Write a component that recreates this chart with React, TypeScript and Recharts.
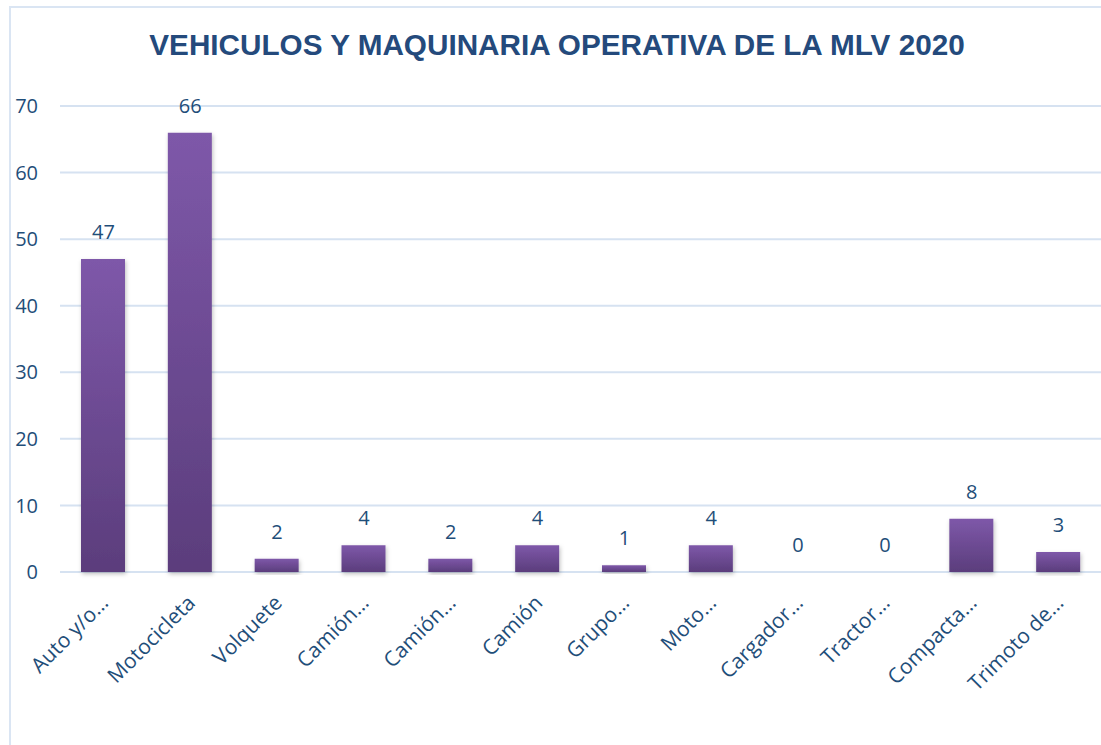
import React from "react";
import { ComposedChart, Bar, Scatter, XAxis, YAxis, CartesianGrid } from "recharts";

const categories = [
  "Auto y/o…",
  "Motocicleta",
  "Volquete",
  "Camión…",
  "Camión…",
  "Camión",
  "Grupo…",
  "Moto…",
  "Cargador…",
  "Tractor…",
  "Compacta…",
  "Trimoto de…",
];
const values = [47, 66, 2, 4, 2, 4, 1, 4, 0, 0, 8, 3];
const yTicks = [0, 10, 20, 30, 40, 50, 60, 70];
const title = "VEHICULOS Y MAQUINARIA OPERATIVA DE LA MLV 2020";

const data = categories.map((c, i) => ({ name: c, value: values[i] }));

const TEXT = "#1f4e79";
const FONT = "'Open Sans', sans-serif";

const XTick = (props: any) => {
  const { x, y, payload } = props;
  return (
    <g transform={`translate(${x + 1},${y + 19})`}>
      <text
        transform="rotate(-45)"
        textAnchor="end"
        dy="0.35em"
        fill={TEXT}
        fontSize={21}
        fontFamily={FONT}
      >
        {payload.value}
      </text>
    </g>
  );
};

const ValueLabel = (props: any) => {
  const { cx, cy, payload } = props;
  return (
    <text
      x={cx}
      y={cy - 20}
      textAnchor="middle"
      fill={TEXT}
      fontSize={20}
      fontFamily={FONT}
    >
      {payload.value}
    </text>
  );
};

export default function App() {
  return (
    <div
      style={{
        position: "fixed",
        left: 0,
        top: 0,
        width: 1101,
        height: 745,
        overflow: "hidden",
        background: "#fff",
      }}
    >
      <div
        style={{
          position: "absolute",
          left: 9,
          top: 6,
          width: 1110,
          height: 760,
          border: "2px solid #dae5f3",
          boxSizing: "border-box",
        }}
      />
      <div
        style={{
          position: "absolute",
          left: 0,
          top: 26,
          width: 1114,
          textAlign: "center",
          fontFamily: "'Liberation Sans', Arial, sans-serif",
          fontWeight: "bold",
          fontSize: 29.7,
          color: "#244a7c",
          lineHeight: "38px",
        }}
      >
        {title}
      </div>
      <div style={{ position: "absolute", left: 0, top: 0 }}>
        <ComposedChart
          width={1102}
          height={745}
          data={data}
          margin={{ top: 106, right: 0, left: 0, bottom: 0 }}
          barCategoryGap={0}
        >
          <defs>
            <linearGradient id="barGrad" x1="0" y1="0" x2="0" y2="1">
              <stop offset="0%" stopColor="#7e58a9" />
              <stop offset="100%" stopColor="#5b3d7c" />
            </linearGradient>
            <filter id="shadow" x="-20%" y="-20%" width="140%" height="140%">
              <feDropShadow dx="1" dy="2" stdDeviation="2" floodColor="#000" floodOpacity="0.25" />
            </filter>
          </defs>
          <CartesianGrid vertical={false} stroke="#d6e2f1" strokeWidth={2} />
          <XAxis
            dataKey="name"
            axisLine={false}
            tickLine={false}
            interval={0}
            tick={<XTick />}
            height={173}
          />
          <YAxis
            domain={[0, 70]}
            ticks={yTicks}
            axisLine={false}
            tickLine={false}
            tickSize={0}
            tickMargin={22}
            width={60}
            tick={{ fill: TEXT, fontSize: 20, fontFamily: FONT }}
          />
          <Bar
            dataKey="value"
            barSize={44}
            fill="url(#barGrad)"
            filter="url(#shadow)"
            isAnimationActive={false}
          />
          <Scatter
            dataKey="value"
            shape={<ValueLabel />}
            isAnimationActive={false}
          />
        </ComposedChart>
      </div>
    </div>
  );
}
